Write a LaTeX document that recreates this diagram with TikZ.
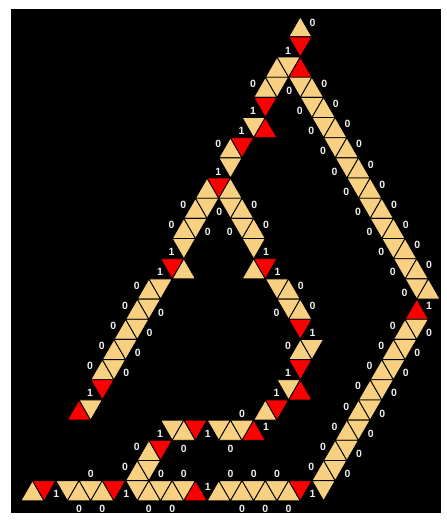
\documentclass[tikz,border=0pt]{standalone}
\usepackage{fontspec}
\setmainfont{Liberation Sans}
\definecolor{tyel}{RGB}{248,208,130}
\definecolor{tred}{RGB}{250,0,0}
\definecolor{tlab}{RGB}{238,238,238}
\newcounter{labc}
\tikzset{
  tri/.style={draw=black, line width=0.85pt, line join=round},
  lab/.style={text=tlab, font=\bfseries\fontsize{10.5}{10.5}\selectfont, inner sep=0pt, anchor=center}
}
\newcommand\triU[3]{\filldraw[tri,fill=#3] ({#2},{#1}) -- ++(-1,1) -- ++(2,0) -- cycle;}
\newcommand\triD[3]{\filldraw[tri,fill=#3] ({#2-1},{#1}) -- ++(2,0) -- ++(-1,1) -- cycle;}
\newcommand\labAt[2]{\stepcounter{labc}\node[lab] (L\arabic{labc}) at #1 {#2};}
\newcommand\labDL[3]{\labAt{({#2-1.05},{#1+0.674})}{#3}}
\newcommand\labDR[3]{\labAt{({#2+1.05},{#1+0.674})}{#3}}
\newcommand\labUL[3]{\labAt{({#2-1.05},{#1+0.326})}{#3}}
\newcommand\labUR[3]{\labAt{({#2+1.05},{#1+0.326})}{#3}}
\newcommand\labUB[3]{\labAt{({#2},{#1+1.42})}{#3}}
\newcommand\labDT[3]{\labAt{({#2},{#1-0.32})}{#3}}
\begin{document}
\begin{tikzpicture}[x=11.645pt,y=-20.17pt]
\useasboundingbox (0,0) rectangle (38.300,25.781);
\fill[white] (0,0) rectangle (38.300,25.781);
\fill[black] (0.945,0.446) rectangle (37.870,25.434);
\begin{scope}[shift={(25.788,0.828)}]
% top and left upper branch
\triU{0}{0}{tyel}
\triD{1}{0}{tred}
\triU{2}{-2}{tyel} \triD{2}{-1}{tyel} \triU{2}{0}{tred}
\triU{3}{-3}{tyel} \triD{3}{-2}{tyel}
\triD{4}{-3}{tred}
\triD{5}{-4}{tyel} \triU{5}{-3}{tred}
\triU{6}{-6}{tyel} \triD{6}{-5}{tred}
\triD{7}{-6}{tyel}
\triU{8}{-8}{tyel} \triD{8}{-7}{tred} \triU{8}{-6}{tyel}
\triU{9}{-9}{tyel} \triD{9}{-8}{tyel} \triD{9}{-6}{tyel} \triU{9}{-5}{tyel}
\triU{10}{-10}{tyel} \triD{10}{-9}{tyel} \triD{10}{-5}{tyel} \triU{10}{-4}{tyel}
\triD{11}{-10}{tyel} \triD{11}{-4}{tyel}
\triD{12}{-11}{tred} \triU{12}{-10}{tyel} \triU{12}{-4}{tyel} \triD{12}{-3}{tred}
\foreach \r in {13,...,17} {\triU{\r}{-\r}{tyel} \triD{\r}{1-\r}{tyel}}
\triD{13}{-2}{tyel} \triU{13}{-1}{tyel}
\triD{14}{-1}{tyel} \triU{14}{0}{tyel}
\triD{15}{0}{tred}
\triU{16}{0}{tyel} \triD{16}{1}{tyel}
\triD{17}{0}{tred}
\triD{18}{-17}{tred} \triD{18}{-1}{tyel} \triU{18}{0}{tred}
\triU{19}{-19}{tred} \triD{19}{-18}{tyel} \triU{19}{-3}{tyel} \triD{19}{-2}{tred}
\triD{20}{-11}{tyel} \triU{20}{-10}{tyel} \triD{20}{-9}{tred}
\triD{20}{-7}{tyel} \triU{20}{-6}{tyel} \triD{20}{-5}{tyel} \triU{20}{-4}{tred}
\triU{21}{-13}{tyel} \triD{21}{-12}{tred}
\triU{22}{-14}{tyel} \triD{22}{-13}{tyel}
% right outer strips
\foreach \r in {3,...,13} {\triD{\r}{\r-3}{tyel} \triU{\r}{\r-2}{tyel}}
\triU{14}{10}{tred}
\foreach \r in {15,...,22} {\triU{\r}{24-\r}{tyel} \triD{\r}{25-\r}{tyel}}
% bottom row
\triU{23}{-23}{tyel} \triD{23}{-22}{tred}
\triD{23}{-20}{tyel} \triU{23}{-19}{tyel} \triD{23}{-18}{tyel} \triU{23}{-17}{tyel} \triD{23}{-16}{tred}
\triD{23}{-14}{tyel} \triU{23}{-13}{tyel} \triD{23}{-12}{tyel} \triU{23}{-11}{tyel} \triD{23}{-10}{tyel} \triU{23}{-9}{tred}
\triU{23}{-7}{tyel} \triD{23}{-6}{tyel} \triU{23}{-5}{tyel} \triD{23}{-4}{tyel} \triU{23}{-3}{tyel} \triD{23}{-2}{tyel} \triU{23}{-1}{tyel} \triD{23}{0}{tred}
\triD{23}{2}{tyel}
% labels
\labUR{0}{0}{0}
\labDL{1}{0}{1}
\labUL{3}{-3}{0}
\labDR{3}{-2}{0}
\labDL{4}{-3}{1}
\labDL{5}{-4}{1}
\labUL{6}{-6}{0}
\labDL{7}{-6}{1}
\labUL{9}{-9}{0} \labDR{9}{-8}{0} \labUR{9}{-5}{0}
\labUL{10}{-10}{0} \labDR{10}{-9}{0} \labDL{10}{-5}{0} \labUR{10}{-4}{0}
\labDL{11}{-10}{1} \labDR{11}{-4}{1}
\labDL{12}{-11}{1} \labDR{12}{-3}{1}
\foreach \r in {13,...,17} {\labUL{\r}{-\r}{0}}
\foreach \r in {14,...,17} {\labDR{\r}{1-\r}{0}}
\labDL{18}{-17}{1}
\labUR{13}{-1}{0} \labDL{14}{-1}{0} \labUR{14}{0}{0}
\labDR{15}{0}{1} \labUL{16}{0}{0} \labDL{17}{0}{1} \labDL{18}{-1}{1}
\foreach \r in {4,...,13} {\labDL{\r}{\r-3}{0}}
\foreach \r in {3,...,12} {\labUR{\r}{\r-2}{0}}
\labUR{14}{10}{1}
\foreach \r in {15,...,22} {\labUL{\r}{24-\r}{0} \labDR{\r}{25-\r}{0}}
\labDL{20}{-11}{1} \labUB{20}{-10}{0} \labDR{20}{-9}{1}
\labUB{20}{-6}{0} \labDT{20}{-5}{0} \labUR{20}{-4}{1}
\labUL{21}{-13}{0}
\labUL{22}{-14}{0} \labDR{22}{-13}{0}
\labDR{23}{-22}{1} \labDT{23}{-18}{0} \labUB{23}{-19}{0} \labUB{23}{-17}{0} \labDR{23}{-16}{1}
\labUB{23}{-13}{0} \labUB{23}{-11}{0} \labDT{23}{-10}{0} \labUR{23}{-9}{1}
\labDT{23}{-6}{0} \labDT{23}{-4}{0} \labDT{23}{-2}{0}
\labUB{23}{-5}{0} \labUB{23}{-3}{0} \labUB{23}{-1}{0} \labDR{23}{0}{1}
\end{scope}
\end{tikzpicture}
\end{document}
